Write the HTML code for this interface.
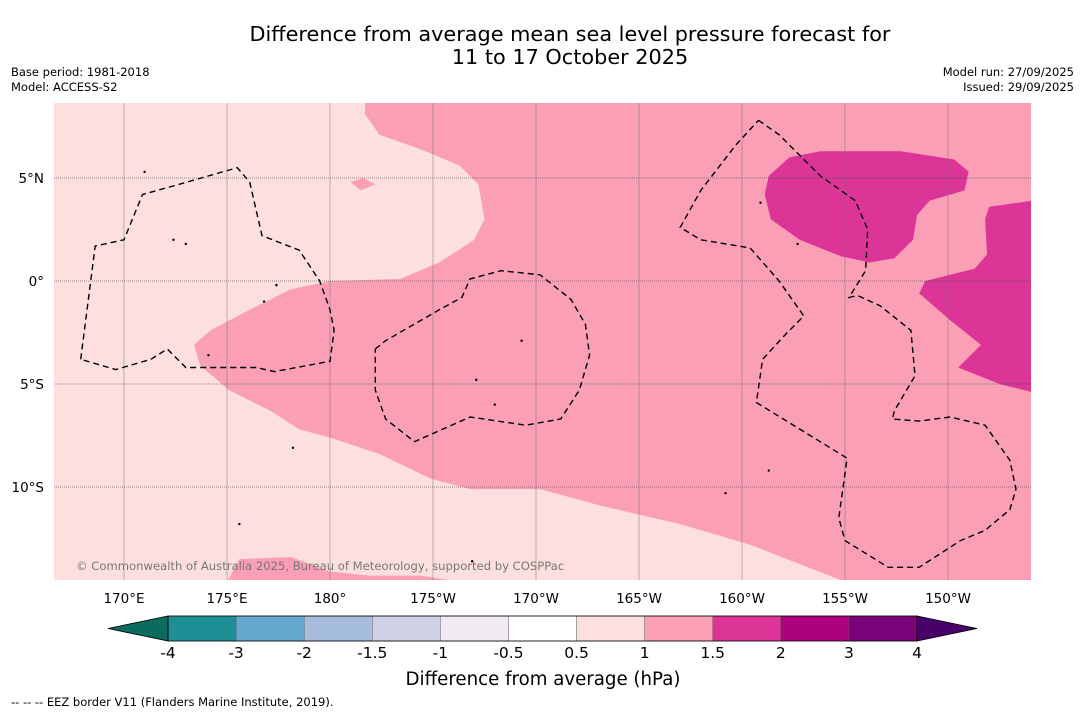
<!DOCTYPE html>
<html><head><meta charset="utf-8"><style>
body{margin:0;background:#fff;width:1085px;height:713px;overflow:hidden;font-family:"DejaVu Sans","Liberation Sans",sans-serif}
svg text{font-family:"DejaVu Sans","Liberation Sans",sans-serif}
</style></head><body>
<svg id="c" width="1085" height="713">
<text x="570" y="41" font-size="20.8" text-anchor="middle">Difference from average mean sea level pressure forecast for</text>
<text x="570" y="64" font-size="20.8" text-anchor="middle">11 to 17 October 2025</text>
<text x="11" y="76" font-size="11.5">Base period: 1981-2018</text>
<text x="11" y="91" font-size="11.5">Model: ACCESS-S2</text>
<text x="1074" y="76" font-size="11.5" text-anchor="end">Model run: 27/09/2025</text>
<text x="1074" y="91" font-size="11.5" text-anchor="end">Issued: 29/09/2025</text>
<defs><clipPath id="mc"><rect x="54" y="103" width="977" height="477"/></clipPath></defs>
<g id="map" clip-path="url(#mc)"></g>
<g id="cb"></g>
<text x="543" y="685" font-size="18.2" text-anchor="middle">Difference from average (hPa)</text>
<text x="11" y="706" font-size="11.5">--  --  -- EEZ border V11 (Flanders Marine Institute, 2019).</text>
</svg>
<script>
const lonTicks=[170,175,180,185,190,195,200,205,210];
const lonLabels=["170°E","175°E","180°","175°W","170°W","165°W","160°W","155°W","150°W"];
const latTicks=[5,0,-5,-10];
const latLabels=["5°N","0°","5°S","10°S"];
const levels=[-4,-3,-2,-1.5,-1,-0.5,0.5,1,1.5,2,3,4];
const levelLabels=["-4","-3","-2","-1.5","-1","-0.5","0.5","1","1.5","2","3","4"];
const binColors=["#1f8f96","#64a8cf","#a6bddb","#d0d1e6","#f0ebf2","#ffffff","#fde0dd","#fa9fb5","#dd3497","#ae017e","#7a0177"];
const extLow="#0b6b5c", extHigh="#49006a";
const pinkRegion=[[181.7,8.7],[181.7,8.1],[182.4,7.1],[184.4,6.4],[186.3,5.6],[187.2,4.7],[187.5,3.0],[187.0,2.0],[185.3,0.9],[183.4,0.1],[180.0,0.0],[178.1,-0.4],[176.1,-1.4],[174.2,-2.4],[173.4,-3.1],[173.7,-4.1],[175.1,-5.3],[177.1,-6.3],[178.5,-7.2],[180.0,-7.6],[182.4,-8.4],[184.9,-9.6],[186.8,-10.1],[190.2,-10.1],[193.1,-10.9],[197.0,-11.8],[200.4,-12.8],[205.0,-14.6],[214.1,-14.6],[214.1,8.7]];
const pinkBlobS=[[175.0,-14.6],[175.6,-13.5],[178.1,-13.4],[180.0,-14.1],[181.9,-14.3],[184.4,-14.3],[186.3,-14.6]];
const pinkBlobN=[[181.0,4.8],[181.6,5.0],[182.2,4.7],[181.5,4.4]];
const magentaA=[[201.3,5.1],[202.3,6.0],[203.8,6.3],[207.7,6.3],[210.3,5.9],[211.0,5.3],[210.8,4.4],[209.1,3.9],[208.5,3.2],[208.3,2.0],[207.4,1.1],[206.2,0.9],[204.8,1.2],[202.8,2.0],[201.4,3.0],[201.1,4.2]];
const magentaB=[[212.0,3.6],[214.1,3.9],[214.1,-5.4],[212.5,-5.0],[210.5,-4.2],[211.6,-3.1],[210.1,-1.9],[208.6,-0.6],[208.9,0.0],[211.3,0.6],[211.9,1.3],[211.8,3.0]];
const eezA=[[167.9,-3.8],[168.6,1.7],[170.0,2.0],[170.9,4.2],[172.7,4.7],[175.5,5.5],[176.1,4.8],[176.7,2.2],[178.5,1.5],[179.5,0.0],[180.0,-1.4],[180.2,-2.4],[180.0,-3.9],[177.3,-4.4],[176.4,-4.2],[173.0,-4.2],[172.1,-3.3],[171.3,-3.8],[169.6,-4.3],[167.9,-3.8]];
const eezB=[[182.2,-3.3],[182.7,-2.9],[185.3,-1.4],[186.4,-0.8],[186.8,0.1],[188.3,0.5],[190.2,0.3],[191.7,-0.9],[192.4,-2.1],[192.6,-3.6],[192.1,-5.3],[191.2,-6.7],[189.5,-7.0],[186.8,-6.6],[184.1,-7.8],[182.7,-6.7],[182.2,-5.3],[182.2,-3.3]];
const eezC=[[200.8,7.8],[201.8,7.1],[203.8,5.1],[205.5,3.9],[206.1,2.5],[206.0,0.5],[205.2,-0.8],[205.6,-0.7],[206.7,-1.2],[208.2,-2.4],[208.4,-4.6],[207.4,-6.3],[207.3,-6.7],[208.6,-6.8],[210.1,-6.6],[211.8,-7.0],[213.0,-8.7],[213.3,-10.1],[213.0,-11.1],[211.8,-12.1],[210.6,-12.6],[208.6,-13.9],[207.1,-13.9],[205.0,-12.6],[204.7,-11.5],[205.1,-8.6],[200.7,-5.9],[201.0,-3.8],[202.1,-2.6],[203.0,-1.7],[201.8,0.0],[200.4,1.6],[198.0,2.0],[197.0,2.6],[198.0,4.4],[199.7,6.6],[200.8,7.8]];
const islands=[[171.0,5.3],[172.4,2.0],[173.0,1.8],[176.8,-1.0],[177.4,-0.2],[187.1,-4.8],[188.0,-6.0],[189.3,-2.9],[199.2,-10.3],[201.3,-9.2],[202.7,1.8],[200.9,3.8],[178.2,-8.1],[174.1,-3.6],[175.6,-11.8],[186.9,-13.6]];

const X=lon=>124+(lon-170)*20.6, Y=lat=>281-lat*20.6;
const NS="http://www.w3.org/2000/svg";
function mk(tag,attrs,parent){const e=document.createElementNS(NS,tag);for(const k in attrs)e.setAttribute(k,attrs[k]);parent.appendChild(e);return e;}
const map=document.getElementById('map'), cb=document.getElementById('cb'), svg=document.getElementById('c');
const pts=a=>a.map(p=>X(p[0]).toFixed(1)+","+Y(p[1]).toFixed(1)).join(" ");
let bg=mk('rect',{x:54,y:103,width:977,height:477,fill:"#fde0dd"},map);


[[pinkRegion,"#fa9fb5","anomaly-1-to-1.5-region"],[pinkBlobS,"#fa9fb5","anomaly-1-to-1.5-south-blob"],[pinkBlobN,"#fa9fb5","anomaly-1-to-1.5-north-blob"],[magentaA,"#dd3497","anomaly-1.5-to-2-region-north"],[magentaB,"#dd3497","anomaly-1.5-to-2-region-east"]].forEach(r=>{
 const p=mk('polygon',{points:pts(r[0]),fill:r[1]},map);
 
 
});
lonTicks.forEach((l,i)=>{
 const g=mk('line',{x1:X(l),x2:X(l),y1:103,y2:580,stroke:"#777","stroke-width":0.5},map);
 
 
 const t=mk('text',{x:X(l),y:603,"font-size":13.5,"text-anchor":"middle"},svg);t.textContent=lonLabels[i];
 
 
});
latTicks.forEach((l,i)=>{
 const g=mk('line',{x1:54,x2:1031,y1:Y(l),y2:Y(l),stroke:"#333","stroke-width":0.6,"stroke-dasharray":"1,1"},map);
 
 
 const t=mk('text',{x:44,y:Y(l)+5,"font-size":13.5,"text-anchor":"end"},svg);t.textContent=latLabels[i];
 
 
});
[eezA,eezB,eezC].forEach(e=>{
 const p=mk('polyline',{points:pts(e),fill:"none",stroke:"#000","stroke-width":1.4,"stroke-dasharray":"6,4"},map);
 
 
});
islands.forEach(s=>{
 const c=mk('circle',{cx:X(s[0]),cy:Y(s[1]),r:1.2,fill:"#000"},map);
 
 
});
const cr=mk('text',{x:76,y:570,"font-size":11.6,fill:"#777"},map);cr.textContent="© Commonwealth of Australia 2025, Bureau of Meteorology, supported by COSPPac";


const cbL=168, cbR=917, cbT=616, cbB=641, w=(cbR-cbL)/binColors.length;
binColors.forEach((c,i)=>{
 const r=mk('rect',{x:cbL+i*w,y:cbT,width:w,height:cbB-cbT,fill:c,stroke:"#555","stroke-width":0.4},cb);
 
 
});
const tl=mk('polygon',{points:`${cbL},${cbT} ${cbL},${cbB} 108,${(cbT+cbB)/2}`,fill:extLow,stroke:"#000","stroke-width":0.8},cb);


const tr=mk('polygon',{points:`${cbR},${cbT} ${cbR},${cbB} 977,${(cbT+cbB)/2}`,fill:extHigh,stroke:"#000","stroke-width":0.8},cb);


const fr=mk('rect',{x:cbL,y:cbT,width:cbR-cbL,height:cbB-cbT,fill:"none",stroke:"#000","stroke-width":0.8},cb);


levels.forEach((v,i)=>{
 const t=mk('text',{x:cbL+i*w,y:658,"font-size":15.5,"text-anchor":"middle"},cb);t.textContent=levelLabels[i];
 
 
});
</script>
</body></html>
